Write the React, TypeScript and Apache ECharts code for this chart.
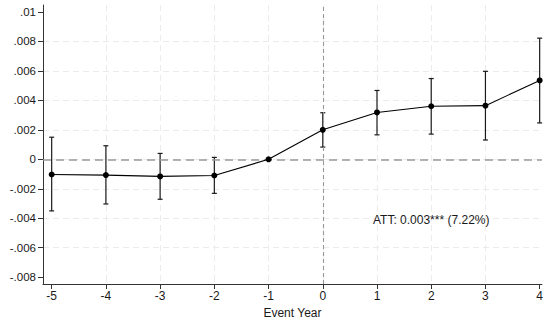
import React, { useEffect, useRef } from "react";
import * as echarts from "echarts";

const years = [-5, -4, -3, -2, -1, 0, 1, 2, 3, 4];
const coef = [-0.00103, -0.00107, -0.00116, -0.0011, 0, 0.002, 0.00318, 0.0036, 0.00364, 0.00535];
const ciLow = [-0.0035, -0.00303, -0.00271, -0.00231, 0, 0.00083, 0.00166, 0.00171, 0.00131, 0.00247];
const ciHigh = [0.0015, 0.00092, 0.0004, 0.00013, 0, 0.00316, 0.00467, 0.00548, 0.00597, 0.00822];
const xTicks = [-5, -4, -3, -2, -1, 0, 1, 2, 3, 4];
const yTicks = [-0.008, -0.006, -0.004, -0.002, 0, 0.002, 0.004, 0.006, 0.008, 0.01];
const attText = "ATT: 0.003*** (7.22%)";
const attPos = [2, -0.0041];

const FONT = "Liberation Sans, Arial, sans-serif";

function fmtY(v: number): string {
  const s = String(Number(v.toFixed(4)));
  return s.replace(/^(-?)0\./, "$1.");
}

export default function App() {
  const ref = useRef<HTMLDivElement>(null);
  useEffect(() => {
    if (!ref.current) return;
    const chart = echarts.init(ref.current, null, { renderer: "svg" });
    const ebData = years.map((x, i) => [x, ciLow[i], ciHigh[i]]).filter((d, i) => ciLow[i] !== ciHigh[i]);
    chart.setOption({
      animation: false,
      backgroundColor: "#ffffff",
      textStyle: { fontFamily: FONT },
      grid: { left: 43, right: 2, top: 5, bottom: 37 },
      xAxis: {
        type: "value",
        min: -5.16,
        max: 4.042,
        minInterval: 1,
        maxInterval: 1,
        name: "Event Year",
        nameLocation: "middle",
        nameGap: 23,
        nameTextStyle: { fontSize: 12, color: "#1a1a1a", fontFamily: FONT },
        axisLine: { show: true, onZero: false, lineStyle: { color: "#333", width: 1 } },
        axisTick: { show: true, length: 5, customValues: xTicks, lineStyle: { color: "#333" } },
        axisLabel: { customValues: xTicks, fontSize: 12, color: "#1a1a1a", margin: 6, fontFamily: FONT },
        splitLine: { show: true, showMinLine: false, showMaxLine: false, lineStyle: { color: "#ebebeb", type: [6, 4], width: 1 } },
      },
      yAxis: {
        type: "value",
        min: -0.00846,
        max: 0.01047,
        minInterval: 0.002,
        maxInterval: 0.002,
        axisLine: { show: true, onZero: false, lineStyle: { color: "#333", width: 1 } },
        axisTick: { show: true, length: 5, customValues: yTicks, lineStyle: { color: "#333" } },
        axisLabel: { customValues: yTicks, fontSize: 11.5, color: "#1a1a1a", margin: 7, formatter: (v: number) => fmtY(v), fontFamily: FONT },
        splitLine: { show: true, showMinLine: false, showMaxLine: false, lineStyle: { color: "#ebebeb", type: [6, 4], width: 1 } },
      },
      series: [
        {
          type: "line",
          data: years.map((x, i) => [x, coef[i]]),
          symbol: "circle",
          symbolSize: 6,
          itemStyle: { color: "#000" },
          lineStyle: { color: "#000", width: 1.1 },
          z: 5,
          markLine: {
            silent: true,
            symbol: "none",
            label: { show: false },
            data: [
              { yAxis: 0, lineStyle: { color: "#999", type: [8, 5], width: 1.6 } },
              { xAxis: 0, lineStyle: { color: "#999", type: [4, 3], width: 1.1 } },
            ],
          },
          markPoint: {
            silent: true,
            symbol: "circle",
            symbolSize: 0,
            data: [{ coord: attPos, value: attText }],
            label: { show: true, position: "inside", formatter: attText, fontSize: 12, color: "#1a1a1a", fontFamily: FONT },
          },
        },
        {
          type: "custom",
          data: ebData,
          z: 4,
          renderItem: (params: any, api: any) => {
            const x = api.value(0);
            const lo = api.coord([x, api.value(1)]);
            const hi = api.coord([x, api.value(2)]);
            const cap = 2.5;
            const style = { stroke: "#1a1a1a", lineWidth: 1.2, fill: "none" };
            return {
              type: "group",
              children: [
                { type: "line", shape: { x1: lo[0], y1: lo[1], x2: hi[0], y2: hi[1] }, style },
                { type: "line", shape: { x1: lo[0] - cap, y1: lo[1], x2: lo[0] + cap, y2: lo[1] }, style },
                { type: "line", shape: { x1: hi[0] - cap, y1: hi[1], x2: hi[0] + cap, y2: hi[1] }, style },
              ],
            };
          },
        },
      ],
    });
    return () => chart.dispose();
  }, []);
  return <div ref={ref} style={{ width: 546, height: 324, position: "absolute", left: 0, top: 0 }} />;
}
